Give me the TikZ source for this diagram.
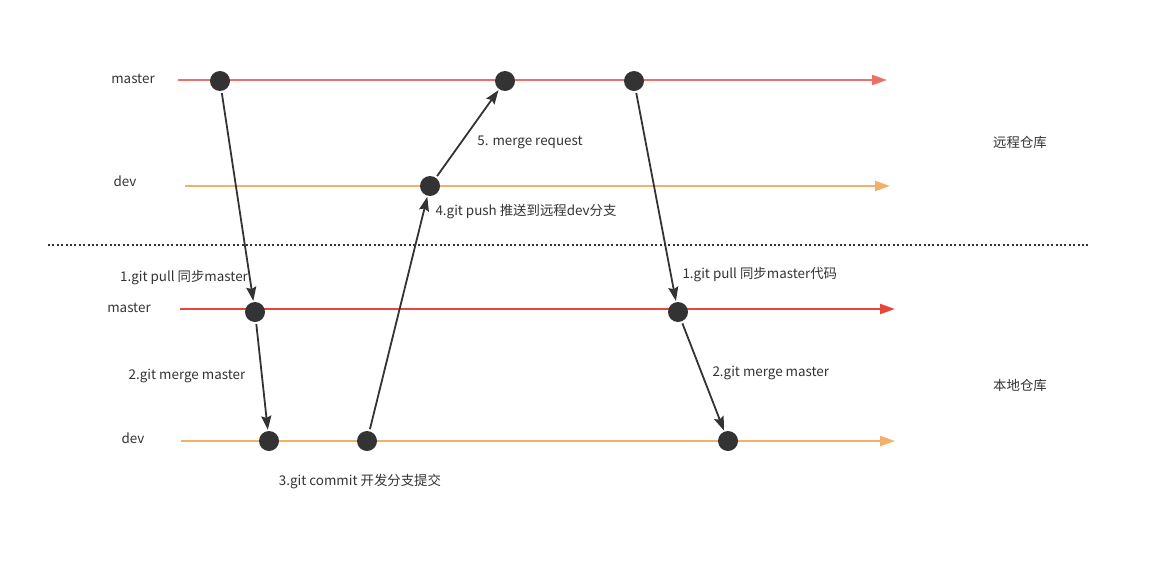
\documentclass[tikz,border=0pt]{standalone}
\usepackage{fontspec}
\setmainfont{Noto Sans CJK SC}
\usetikzlibrary{arrows.meta}
\definecolor{remotered}{HTML}{EC7067}
\definecolor{localred}{HTML}{E8453C}
\definecolor{devorange}{HTML}{F2B06A}
\definecolor{commitgray}{HTML}{333333}

\begin{document}
\begin{tikzpicture}[x=1pt,y=-1pt,>=Stealth,
		every node/.style={font=\fontsize{13.4}{15}\selectfont,text=commitgray},
		commit/.style={circle,fill=commitgray,minimum size=20pt,inner sep=0pt},
		branch/.style={line width=2pt,-{Triangle[length=15pt,width=10pt]}},
		flow/.style={line width=1.8pt,draw=commitgray,shorten <=2pt,shorten >=1pt,-{Stealth[length=14pt,width=10pt,inset=2pt]}}]
		\useasboundingbox (0,0) rectangle (1161,562);
		
		% branch lines
		\coordinate (rmS)at(178,80);  \coordinate (rmE)at(887,80);
		\coordinate (rdS)at(185,186); \coordinate (rdE)at(890,186);
		\coordinate (lmS)at(180,309); \coordinate (lmE)at(895,309);
		\coordinate (ldS)at(181,441); \coordinate (ldE)at(895,441);
		\coordinate (sepL)at(48,245); \coordinate (sepR)at(1090,245);
		
		\draw[branch,remotered](rmS)--(rmE);
		\draw[branch,devorange](rdS)--(rdE);
		\draw[branch,localred](lmS)--(lmE);
		\draw[branch,devorange](ldS)--(ldE);
		\draw[commitgray,line width=2pt,dash pattern=on 2pt off 2.4pt](sepL)--(sepR);
		
		\node at (133,79){master};
		\node at (125,181){dev};
		\node at (129,308){master};
		\node at (133,438){dev};
		\node at (1020,142){远程仓库};
		\node at (1020,385){本地仓库};
		
		% commits
		\node[commit](rm1)at(220,81){};
		\node[commit](rm2)at(505,81){};
		\node[commit](rm3)at(634,81){};
		\node[commit](rd1)at(430,186){};
		\node[commit](lm1)at(255,312){};
		\node[commit](lm2)at(678,312){};
		\node[commit](ld1)at(269,441){};
		\node[commit](ld2)at(367,441){};
		\node[commit](ld3)at(728,441){};
		
		\draw[flow](rm1)--(lm1);
		\draw[flow](lm1)--(ld1);
		\draw[flow](ld2)--(rd1);
		\draw[flow](rd1)--(rm2);
		\draw[flow](rm3)--(lm2);
		\draw[flow](lm2)--(ld3);
		
		\node at (530,142){5. merge request};
		\node[anchor=west] at (432,212){4.git push 推送到远程dev分支};
		\node at (184,278){1.git pull 同步master};
		\node[anchor=west] at (679,275){1.git pull 同步master代码};
		\node at (187,376){2.git merge master};
		\node[anchor=west] at (709,373){2.git merge master};
		\node at (360,481){3.git commit 开发分支提交};
	\end{tikzpicture}
\end{document}
